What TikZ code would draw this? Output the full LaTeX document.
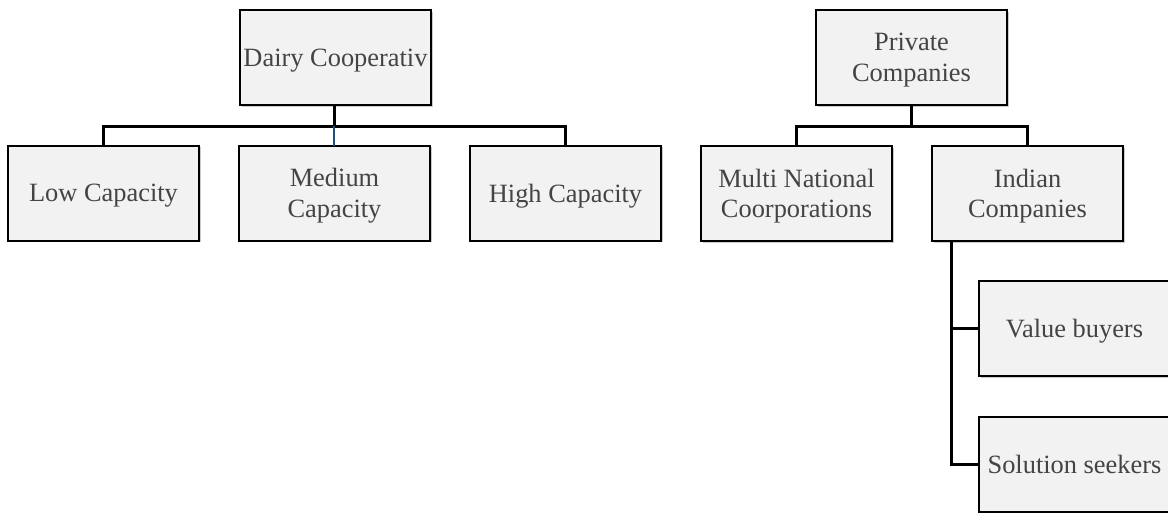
\documentclass[tikz,border=0pt]{standalone}
\usepackage{fontspec}
\setmainfont{Liberation Serif}
\usetikzlibrary{shadows}
\definecolor{boxfill}{HTML}{F2F2F2}
\definecolor{txt}{HTML}{444444}
\definecolor{linkblue}{HTML}{1F4E79}
\tikzset{
  orgbox/.style={draw=black, line width=2pt, fill=boxfill,
    minimum width=191pt, minimum height=95pt, inner sep=0pt, outer sep=0pt,
    align=center, text=txt, font=\fontsize{26.4}{30.5}\selectfont,
    text depth=-8pt,
    drop shadow={shadow xshift=1.5pt, shadow yshift=-1.5pt, fill=black!35, opacity=0.6}},
  conn/.style={draw=black, line width=3pt},
}
\begin{document}
\begin{tikzpicture}[x=1pt, y=-1pt]
  \useasboundingbox (0,0) rectangle (1168,512);
  \clip (0,0) rectangle (1168,512);

  % left hierarchy
  \node[orgbox] (dairy) at (335.5,57.5) {Dairy Cooperativ};
  \node[orgbox] (low)   at (103.5,193) {Low Capacity};
  \node[orgbox] (med)   at (334.5,193) {Medium\\Capacity};
  \node[orgbox] (high)  at (565.5,193) {High Capacity};

  % right hierarchy
  \node[orgbox] (priv)  at (911.5,57.5) {Private\\Companies};
  \node[orgbox] (mnc)   at (796.5,193.5) {Multi National\\Coorporations};
  \node[orgbox] (ind)   at (1027.5,193.5) {Indian\\Companies};
  \node[orgbox] (val)   at (1074.5,328.5) {Value buyers};
  \node[orgbox] (sol)   at (1074.5,464.5) {Solution seekers};

  % connectors
  \coordinate (dbar) at (334,126);
  \coordinate (pbar) at (911.5,126);
  \draw[conn] (dairy.south -| dbar) -- (dbar);
  \draw[conn] (low.north) |- (dbar) -| (high.north);
  \draw[linkblue, line width=2pt] (dbar) -- (med.north -| dbar);

  \draw[conn] (priv.south) -- (pbar);
  \draw[conn] (mnc.north) |- (pbar) -| (ind.north);

  \coordinate (ileg) at ([xshift=19pt]ind.south west);
  \draw[conn] (ileg) |- (val.west);
  \draw[conn] (ileg) |- (sol.west);
\end{tikzpicture}
\end{document}
